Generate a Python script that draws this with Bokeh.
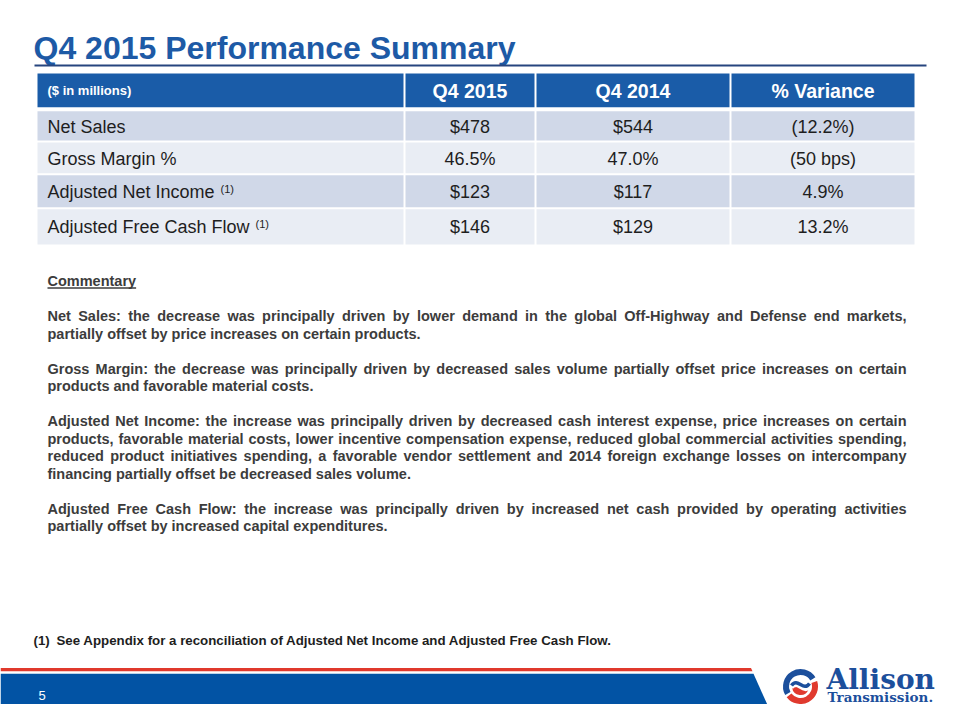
from bokeh.plotting import figure
from bokeh.models import Range1d
from bokeh.embed import file_html
from bokeh.resources import INLINE
from bokeh.core.properties import value

# ---------------- data ----------------
title_text = "Q4 2015 Performance Summary"
header_labels = ["($ in millions)", "Q4 2015", "Q4 2014", "% Variance"]
metrics = ["Net Sales", "Gross Margin %", "Adjusted Net Income", "Adjusted Free Cash Flow"]
metric_notes = ["", "", "(1)", "(1)"]
q4_2015 = ["$478", "46.5%", "$123", "$146"]
q4_2014 = ["$544", "47.0%", "$117", "$129"]
variance = ["(12.2%)", "(50 bps)", "4.9%", "13.2%"]

commentary_heading = "Commentary"
commentary_net_sales = [
    "Net Sales: the decrease was principally driven by lower demand in the global Off-Highway and Defense end markets,",
    "partially offset by price increases on certain products.",
]
commentary_gross_margin = [
    "Gross Margin: the decrease was principally driven by decreased sales volume partially offset price increases on certain",
    "products and favorable material costs.",
]
commentary_net_income = [
    "Adjusted Net Income: the increase was principally driven by decreased cash interest expense, price increases on certain",
    "products, favorable material costs, lower incentive compensation expense, reduced global commercial activities spending,",
    "reduced product initiatives spending, a favorable vendor settlement and 2014 foreign exchange losses on intercompany",
    "financing partially offset be decreased sales volume.",
]
commentary_fcf = [
    "Adjusted Free Cash Flow: the increase was principally driven by increased net cash provided by operating activities",
    "partially offset by increased capital expenditures.",
]
footnote_marker = "(1)"
footnote_text = "See Appendix for a reconciliation of Adjusted Net Income and Adjusted Free Cash Flow."
page_number = "5"
brand_name = "Allison"
brand_sub = "Transmission."

# ---------------- font metrics (Arial / Liberation Sans) ----------------
UP = "ABCDEFGHIJKLMNOPQRSTUVWXYZ"
LO = "abcdefghijklmnopqrstuvwxyz"
REG_UP = [667,667,722,722,667,611,778,722,278,500,667,556,833,722,778,667,778,722,667,611,722,667,944,667,667,611]
REG_LO = [556,556,500,556,556,278,556,556,222,222,500,222,833,556,556,556,556,333,500,278,556,500,722,500,500,500]
BOLD_UP = [722,722,722,722,667,611,778,722,278,556,722,611,833,722,778,667,778,722,667,611,722,667,944,667,667,611]
BOLD_LO = [556,611,556,611,556,333,611,611,278,278,556,278,889,611,611,611,611,389,556,333,611,556,778,556,556,500]
REG = {" ": 278, "(": 333, ")": 333, "%": 889, "$": 556, ".": 278, ",": 278, "-": 333, ":": 278}
BOLD = {" ": 278, "(": 333, ")": 333, "%": 889, "$": 556, ".": 278, ",": 278, "-": 333, ":": 333}
for i, c in enumerate(UP):
    REG[c] = REG_UP[i]; BOLD[c] = BOLD_UP[i]
for i, c in enumerate(LO):
    REG[c] = REG_LO[i]; BOLD[c] = BOLD_LO[i]
for d in "0123456789":
    REG[d] = 556; BOLD[d] = 556


def tw(s, size, bold):
    t = BOLD if bold else REG
    return sum(t.get(ch, 556) for ch in s) * size / 1000.0


def by(baseline, size):
    # renderer places the alphabetic baseline about 0.32em below the anchor
    return baseline - 0.32 * size


FONT = value("Liberation Sans")

# ---------------- colors ----------------
TITLE_BLUE = "#1D5AA6"
RULE_BLUE = "#26457E"
HEAD_BLUE = "#1A5CA8"
ROW_DARK = "#D0D8E8"
ROW_LIGHT = "#E9EDF4"
TXT = "#1E1E1E"
COM_TXT = "#3C3C3C"
BAND_BLUE = "#0253A4"
BAND_RED = "#E0392C"
LOGO_BLUE = "#1C4F9C"
LOGO_RED = "#E03A2E"

p = figure(width=944, height=704, x_range=Range1d(0, 944), y_range=Range1d(704, 0),
           output_backend="svg", toolbar_location=None, x_axis_type=None, y_axis_type=None,
           min_border=0, outline_line_color=None, background_fill_color="white",
           border_fill_color="white")

# ---------------- title ----------------
p.text(x=[33], y=[by(57.5, 32)], text=[title_text], text_font=FONT, text_font_style="bold",
       text_font_size="32px", text_color=TITLE_BLUE, text_align="left", text_baseline="alphabetic")
p.segment(x0=[34], y0=[65], x1=[926], y1=[65], line_color=RULE_BLUE, line_width=2)

# ---------------- table ----------------
col_edges = [37, 404, 535, 730, 914]
head_top, head_bot = 73, 106.7
row_edges = [110.7, 141, 173.7, 207.7, 244]
ncols = len(col_edges) - 1
nrows = len(metrics)

cl = [col_edges[i] + (1 if i > 0 else 0) for i in range(ncols)]
cr = [col_edges[i + 1] - (1 if i < ncols - 1 else 0) for i in range(ncols)]
p.quad(left=cl, right=cr, top=[head_top] * ncols, bottom=[head_bot] * ncols,
       fill_color=HEAD_BLUE, line_color=None)

ql, qr, qt, qb, qc = [], [], [], [], []
for r in range(nrows):
    t = row_edges[r] + (1 if r > 0 else 0)
    b = row_edges[r + 1] - (1 if r < nrows - 1 else 0)
    for c in range(ncols):
        ql.append(cl[c]); qr.append(cr[c]); qt.append(t); qb.append(b)
        qc.append(ROW_DARK if r % 2 == 0 else ROW_LIGHT)
p.quad(left=ql, right=qr, top=qt, bottom=qb, fill_color=qc, line_color=None)

head_c = (head_top + head_bot) / 2
col_centers = [(cl[c] + cr[c]) / 2 for c in range(ncols)]
p.text(x=[47], y=[by(head_c + 0.358 * 13, 13)], text=[header_labels[0]], text_font=FONT,
       text_font_style="bold", text_font_size="13px", text_color="white",
       text_align="left", text_baseline="alphabetic")
p.text(x=col_centers[1:], y=[by(head_c + 0.358 * 19.5, 19.5)] * 3, text=header_labels[1:], text_font=FONT,
       text_font_style="bold", text_font_size="19.5px", text_color="white",
       text_align="center", text_baseline="alphabetic")

row_centers = [(row_edges[r] + row_edges[r + 1]) / 2 for r in range(nrows)]
SZ = 18
base = [rc + 0.358 * SZ for rc in row_centers]
ty = [by(b, SZ) for b in base]
p.text(x=[47] * nrows, y=ty, text=metrics, text_font=FONT, text_font_size="18px",
       text_color=TXT, text_align="left", text_baseline="alphabetic")
for c, vals in zip([1, 2, 3], [q4_2015, q4_2014, variance]):
    p.text(x=[col_centers[c]] * nrows, y=ty, text=vals, text_font=FONT, text_font_size="18px",
           text_color=TXT, text_align="center", text_baseline="alphabetic")
sx, sy, st = [], [], []
for r in range(nrows):
    if metric_notes[r]:
        sx.append(47 + tw(metrics[r] + " ", SZ, False) + 1)
        sy.append(by(base[r] - 5, 11))
        st.append(metric_notes[r])
p.text(x=sx, y=sy, text=st, text_font=FONT, text_font_size="11px", text_color=TXT,
       text_align="left", text_baseline="alphabetic")

# ---------------- commentary ----------------
COM_SIZE = 14.5
COM_LEFT, COM_RIGHT = 47, 906
COM_Y0, COM_LH = 285.5, 17.5
p.text(x=[COM_LEFT], y=[by(COM_Y0, COM_SIZE)], text=[commentary_heading], text_font=FONT,
       text_font_style="bold", text_font_size="14.5px", text_color=COM_TXT,
       text_align="left", text_baseline="alphabetic")
p.segment(x0=[COM_LEFT], y0=[COM_Y0 + 2], x1=[COM_LEFT + tw(commentary_heading, COM_SIZE, True)],
          y1=[COM_Y0 + 2], line_color=COM_TXT, line_width=1.3)

wx, wy, wt = [], [], []
k = 2
for para in [commentary_net_sales, commentary_gross_margin, commentary_net_income, commentary_fcf]:
    for j, line in enumerate(para):
        yb = by(COM_Y0 + COM_LH * k, COM_SIZE)
        if j < len(para) - 1:
            words = line.split(" ")
            widths = [tw(w, COM_SIZE, True) for w in words]
            gap = (COM_RIGHT - COM_LEFT - sum(widths)) / (len(words) - 1)
            x = COM_LEFT
            for w, wd in zip(words, widths):
                wx.append(x); wy.append(yb); wt.append(w)
                x += wd + gap
        else:
            wx.append(COM_LEFT); wy.append(yb); wt.append(line)
        k += 1
    k += 1
p.text(x=wx, y=wy, text=wt, text_font=FONT, text_font_style="bold", text_font_size="14.5px",
       text_color=COM_TXT, text_align="left", text_baseline="alphabetic")

# ---------------- footnote ----------------
p.text(x=[33, 56], y=[by(644, 13.3)] * 2, text=[footnote_marker, footnote_text], text_font=FONT,
       text_font_style="bold", text_font_size="13.3px", text_color=TXT,
       text_align="left", text_baseline="alphabetic")

# ---------------- footer band ----------------
p.patch(x=[0, 750.5, 752, 0], y=[667.5, 667.5, 670.8, 670.8], fill_color=BAND_RED, line_color=None)
p.patch(x=[0, 753, 774, 0], y=[673.3, 673.3, 720, 720], fill_color=BAND_BLUE, line_color=None)
p.text(x=[41.5], y=[by(699, 13)], text=[page_number], text_font=FONT, text_font_size="13px",
       text_color="white", text_align="center", text_baseline="alphabetic")

# ---------------- logo ----------------
ex, ey = 800, 686
p.annular_wedge(x=[ex], y=[ey], inner_radius=11.5, outer_radius=17.5,
                inner_radius_units="screen", outer_radius_units="screen",
                start_angle=0.55, end_angle=3.65, fill_color=LOGO_BLUE, line_color=None)
p.annular_wedge(x=[ex], y=[ey], inner_radius=11.5, outer_radius=17.5,
                inner_radius_units="screen", outer_radius_units="screen",
                start_angle=3.8, end_angle=6.6, fill_color=LOGO_RED, line_color=None)
p.wedge(x=[ex], y=[ey], radius=8.5, radius_units="screen", start_angle=3.3, end_angle=5.9,
        fill_color=LOGO_RED, line_color=None)
p.bezier(x0=[ex - 9.5], y0=[ey + 1], x1=[ex + 9.5], y1=[ey - 1], cx0=[ex - 3], cy0=[ey - 9],
         cx1=[ex + 3], cy1=[ey + 9], line_color="white", line_width=5)
p.bezier(x0=[ex - 9], y0=[ey - 1], x1=[ex + 9], y1=[ey - 3], cx0=[ex - 3], cy0=[ey - 10],
         cx1=[ex + 3], cy1=[ey + 6], line_color=LOGO_BLUE, line_width=3.5)
p.text(x=[826], y=[by(688, 28)], text=[brand_name], text_font=value("DejaVu Serif"),
       text_font_style="bold", text_font_size="28px", text_color=LOGO_BLUE,
       text_align="left", text_baseline="alphabetic")
p.text(x=[827], y=[by(701, 13.5)], text=[brand_sub], text_font=value("DejaVu Serif"),
       text_font_style="bold", text_font_size="13.5px", text_color=LOGO_BLUE,
       text_align="left", text_baseline="alphabetic")

open("out.html", "w").write(file_html(p, INLINE))
